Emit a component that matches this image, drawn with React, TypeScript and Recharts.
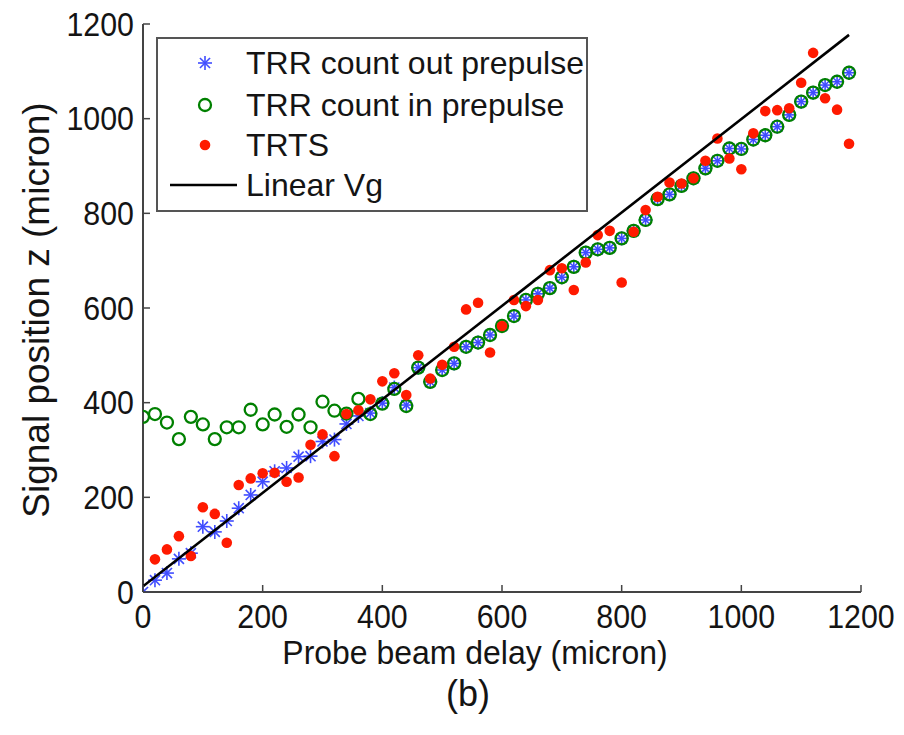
import React from 'react';
import { ScatterChart, Scatter, XAxis, YAxis, Legend } from 'recharts';

// probe beam delay (micron), one sample every 20 micron
const delayMicron = [
  0, 20, 40, 60, 80, 100, 120, 140, 160, 180, 200, 220, 240, 260, 280, 300, 320, 340, 360, 380,
  400, 420, 440, 460, 480, 500, 520, 540, 560, 580, 600, 620, 640, 660, 680, 700, 720, 740, 760, 780,
  800, 820, 840, 860, 880, 900, 920, 940, 960, 980, 1000, 1020, 1040, 1060, 1080, 1100, 1120, 1140, 1160, 1180,
];

// TRR count out prepulse
const outPrepulse = [
  0, 25, 40, 70, 82, 138, 127, 150, 177, 205, 233, 255, 262, 286, 287, 318, 322, 355, 372, 378,
  399, 432, 395, 474, 444, 469, 483, 518, 527, 543, 562, 583, 617, 630, 642, 665, 687, 717, 724, 727,
  747, 763, 786, 830, 840, 858, 874, 895, 911, 937, 936, 956, 965, 983, 1008, 1036, 1055, 1071, 1078, 1097,
];

// TRR count in prepulse
const inPrepulse = [
  370, 376, 358, 323, 370, 354, 323, 348, 348, 385, 354, 375, 349, 375, 348, 402, 383, 377, 408, 376,
  398, 429, 393, 474, 444, 469, 483, 518, 527, 543, 562, 583, 617, 630, 642, 665, 687, 717, 724, 727,
  747, 763, 786, 830, 840, 858, 874, 895, 911, 937, 936, 956, 965, 983, 1008, 1036, 1055, 1071, 1078, 1097,
];

// TRTS (starts at 20 micron)
const trtsDelay = [
  20, 40, 60, 80, 100, 120, 140, 160, 180, 200, 220, 240, 260, 280, 300, 320, 340, 360, 380,
  400, 420, 440, 460, 480, 500, 520, 540, 560, 580, 600, 620, 640, 660, 680, 700, 720, 740, 760, 780,
  800, 820, 840, 860, 880, 900, 920, 940, 960, 980, 1000, 1020, 1040, 1060, 1080, 1100, 1120, 1140, 1160, 1180,
];
const trts = [
  69, 90, 118, 76, 179, 165, 104, 226, 240, 251, 252, 233, 242, 311, 333, 287, 376, 384, 407,
  445, 462, 416, 500, 451, 480, 518, 597, 611, 506, 562, 617, 604, 617, 680, 684, 638, 696, 754, 763,
  654, 761, 807, 835, 865, 863, 874, 911, 958, 916, 893, 969, 1016, 1018, 1022, 1076, 1139, 1043, 1019, 947,
];

// Linear Vg fit
const linearDelay = [0, 1180];
const linearVg = [12, 1177];

const axisTicks = [0, 200, 400, 600, 800, 1000, 1200];
const legendLabels = ['TRR count out prepulse', 'TRR count in prepulse', 'TRTS', 'Linear Vg'];

const FONT = '"Liberation Sans", Arial, Helvetica, sans-serif';
const TEXT = '#141414';
const AXIS = '#444';
const BLUE = '#1f2eff';
const GREEN = '#008000';
const RED = '#ff1a00';
const TICK_LEN = 7;

const zip = (xs: number[], ys: number[]) => xs.map((x, i) => ({ x, y: ys[i] }));

const outData = zip(delayMicron, outPrepulse);
const inData = zip(delayMicron, inPrepulse);
const trtsData = zip(trtsDelay, trts);
const lineData = zip(linearDelay, linearVg);

const Asterisk = ({ cx, cy }: any) => {
  const r = 7;
  const d = r * 0.72;
  return (
    <g stroke={BLUE} strokeWidth={1.6} opacity={0.85}>
      <line x1={cx - r} y1={cy} x2={cx + r} y2={cy} />
      <line x1={cx} y1={cy - r} x2={cx} y2={cy + r} />
      <line x1={cx - d} y1={cy - d} x2={cx + d} y2={cy + d} />
      <line x1={cx - d} y1={cy + d} x2={cx + d} y2={cy - d} />
    </g>
  );
};

const Ring = ({ cx, cy }: any) => (
  <circle cx={cx} cy={cy} r={6} fill="none" stroke={GREEN} strokeWidth={2.3} />
);

const Dot = ({ cx, cy }: any) => <circle cx={cx} cy={cy} r={5.3} fill={RED} />;

const NoMark = () => <g />;

// the source figure's lettering is slightly narrow, so squeeze it a little
const Label = ({ x, y, anchor, size, sx, children }: any) => (
  <text
    transform={`translate(${x} ${y}) scale(${sx} 1)`}
    textAnchor={anchor}
    fontSize={size}
    fontFamily={FONT}
    fill={TEXT}
  >
    {children}
  </text>
);

const BottomTick = ({ x, y, payload }: any) => (
  <g>
    <line x1={x} y1={y} x2={x} y2={y - TICK_LEN} stroke={AXIS} strokeWidth={1.5} />
    <Label x={x} y={y + 36} anchor="middle" size={33} sx={0.92}>
      {payload.value}
    </Label>
  </g>
);

const TopTick = ({ x, y }: any) => (
  <line x1={x} y1={y} x2={x} y2={y + TICK_LEN} stroke={AXIS} strokeWidth={1.5} />
);

const LeftTick = ({ x, y, payload }: any) => (
  <g>
    <line x1={x} y1={y} x2={x + TICK_LEN} y2={y} stroke={AXIS} strokeWidth={1.5} />
    <Label x={x - 9} y={y + 11.5} anchor="end" size={33} sx={0.92}>
      {payload.value}
    </Label>
  </g>
);

const RightTick = ({ x, y }: any) => (
  <line x1={x} y1={y} x2={x - TICK_LEN} y2={y} stroke={AXIS} strokeWidth={1.5} />
);

const rowCenters = [24, 66, 106, 146];

const renderLegend = () => (
  <div
    style={{
      position: 'relative',
      width: 432,
      height: 175,
      boxSizing: 'border-box',
      border: '2px solid #555',
      background: '#fff',
      fontFamily: FONT,
    }}
  >
    <svg width={428} height={171} style={{ position: 'absolute', left: 0, top: 0 }}>
      <Asterisk cx={47} cy={rowCenters[0]} />
      <Ring cx={47} cy={rowCenters[1]} />
      <Dot cx={47} cy={rowCenters[2]} />
      <line x1={12} y1={rowCenters[3]} x2={79} y2={rowCenters[3]} stroke="#000" strokeWidth={2.6} />
    </svg>
    {legendLabels.map((label, i) => (
      <div
        key={label}
        style={{
          position: 'absolute',
          left: 88,
          top: rowCenters[i] - 20,
          lineHeight: '40px',
          fontSize: 32,
          color: TEXT,
          whiteSpace: 'nowrap',
        }}
      >
        {label}
      </div>
    ))}
  </div>
);

export default function App() {
  return (
    <div style={{ position: 'absolute', left: 0, top: 0, width: 904, height: 735, background: '#fff' }}>
      <ScatterChart width={904} height={735} margin={{ top: 24, right: 43, left: 0, bottom: 103 }}>
        <XAxis
          type="number"
          dataKey="x"
          domain={[0, 1200]}
          ticks={axisTicks}
          interval={0}
          allowDataOverflow
          height={40}
          tickSize={0}
          tickMargin={0}
          tickLine={false}
          axisLine={{ stroke: AXIS, strokeWidth: 2 }}
          tick={BottomTick}
        />
        <XAxis
          xAxisId="top"
          orientation="top"
          type="number"
          domain={[0, 1200]}
          ticks={axisTicks}
          interval={0}
          allowDataOverflow
          height={0}
          tickSize={0}
          tickMargin={0}
          tickLine={false}
          axisLine={{ stroke: AXIS, strokeWidth: 2 }}
          tick={TopTick}
        />
        <YAxis
          type="number"
          dataKey="y"
          domain={[0, 1200]}
          ticks={axisTicks}
          interval={0}
          allowDataOverflow
          width={143}
          tickSize={0}
          tickMargin={0}
          tickLine={false}
          axisLine={{ stroke: AXIS, strokeWidth: 2 }}
          tick={LeftTick}
        />
        <YAxis
          yAxisId="right"
          orientation="right"
          type="number"
          domain={[0, 1200]}
          ticks={axisTicks}
          interval={0}
          allowDataOverflow
          width={0}
          tickSize={0}
          tickMargin={0}
          tickLine={false}
          axisLine={{ stroke: AXIS, strokeWidth: 2 }}
          tick={RightTick}
        />
        <Legend
          layout="vertical"
          align="center"
          verticalAlign="middle"
          content={renderLegend}
          wrapperStyle={{ left: 156, top: 37, width: 432, height: 175 }}
        />
        <Scatter name="TRR count out prepulse" data={outData} shape={Asterisk} isAnimationActive={false} />
        <Scatter name="TRR count in prepulse" data={inData} shape={Ring} isAnimationActive={false} />
        <Scatter name="TRTS" data={trtsData} shape={Dot} isAnimationActive={false} />
        <Scatter
          name="Linear Vg"
          data={lineData}
          shape={NoMark}
          line={{ stroke: '#000', strokeWidth: 2.6 }}
          isAnimationActive={false}
        />
      </ScatterChart>
      <svg
        width={904}
        height={735}
        style={{ position: 'absolute', left: 0, top: 0, pointerEvents: 'none' }}
      >
        <Label x={475} y={664} anchor="middle" size={34} sx={0.94}>
          Probe beam delay (micron)
        </Label>
        <text
          transform="translate(49, 310) rotate(-90)"
          textAnchor="middle"
          fontSize={37}
          fontFamily={FONT}
          fill={TEXT}
        >
          Signal position z (micron)
        </text>
        <text x={468} y={706} textAnchor="middle" fontSize={36} fontFamily={FONT} fill={TEXT}>
          (b)
        </text>
      </svg>
    </div>
  );
}
